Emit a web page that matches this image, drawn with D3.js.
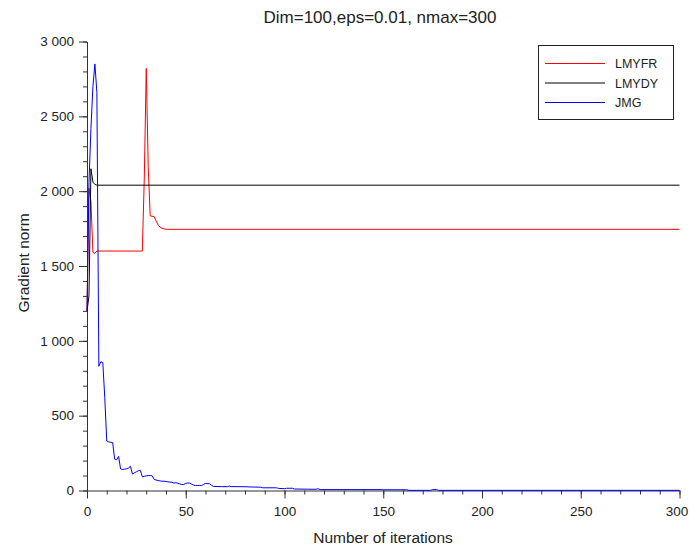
<!DOCTYPE html>
<html>
<head>
<meta charset="utf-8">
<script src="https://cdn.jsdelivr.net/npm/d3@7"></script>
<style>
  body { margin: 0; background: #fff; }
  text { font-family: "Liberation Sans", Arial, sans-serif; }
</style>
</head>
<body>
<script>
// series names, in legend order
var seriesNames = ["LMYFR", "LMYDY", "JMG"];
var seriesColors = ["#ff0000", "#000000", "#0000ff"];

// LMYFR, flat parts only keep their ends
var lmyfrIter = [0, 1, 2, 3, 4, 5, 28, 29, 30, 31, 32, 34, 35, 36, 37, 38, 39, 40, 41, 300];
var lmyfrNorm = [1200, 2020, 1930, 1590, 1585, 1600, 1600, 2080, 2820, 2160, 1835, 1830, 1800, 1775, 1760, 1752, 1748, 1746, 1745, 1745];

// LMYDY
var lmydyIter = [0, 1, 2, 3, 4, 5, 300];
var lmydyNorm = [1200, 1300, 2150, 2060, 2045, 2040, 2040];

// JMG
var jmgIter = [0, 1, 2, 3, 4, 5, 6, 7, 8, 9, 10, 11, 12, 13, 14, 15, 16, 17, 18, 19,
  20, 21, 22, 23, 24, 25, 26, 27, 28, 29, 30, 31, 32, 33, 34, 35, 36, 37, 38, 39,
  40, 41, 42, 43, 44, 45, 46, 47, 48, 49, 50, 51, 52, 53, 54, 55, 56, 57, 58, 59, 60,
  62, 63, 64, 68, 71, 72, 73, 81, 82, 88, 89, 96, 97, 100, 101, 104, 105, 116, 117, 118,
  149, 150, 162, 163, 174, 175, 177, 178, 300];
var jmgNorm = [1200, 2060, 2420, 2700, 2850, 2660, 830, 860, 855, 620, 330, 325, 322, 320, 210, 205, 228, 145, 140, 142,
  145, 150, 162, 110, 118, 125, 132, 135, 92, 95, 98, 100, 100, 98, 75, 70, 66, 64, 62, 62,
  60, 58, 56, 55, 50, 52, 48, 44, 40, 40, 48, 50, 50, 42, 36, 33, 33, 34, 33, 40, 47,
  46, 35, 27, 26, 25, 30, 26, 25, 24, 22, 18, 18, 14, 12, 15, 15, 10, 8, 12, 6,
  6, 5, 5, 1, 1, 6, 6, 1, 1];

var xMajor = [0, 50, 100, 150, 200, 250, 300];
var yMajor = [0, 500, 1000, 1500, 2000, 2500, 3000];

var titleText = "Dim=100,eps=0.01, nmax=300";
var xLabel = "Number of iterations";
var yLabel = "Gradient norm";

var width = 689, height = 547;

var svg = d3.select("body")
  .append("svg")
    .attr("width", width)
    .attr("height", height);

var x = d3.scaleLinear()
  .domain([0, 300])
  .range([87, 679.5]);

var y = d3.scaleLinear()
  .domain([0, 3000])
  .range([490.5, 41.5]);

var fmt = d3.formatLocale({decimal: ".", thousands: " ", grouping: [3], currency: ["", ""]}).format(",d");

// minor ticks first, then the labelled ones
svg.append("g")
  .attr("transform", "translate(0," + y(0) + ")")
  .call(d3.axisBottom(x).tickValues(d3.range(0, 301, 10)).tickSize(4).tickFormat(""))
  .call(function(g){ g.select(".domain").remove(); });

svg.append("g")
  .attr("transform", "translate(" + x(0) + ",0)")
  .call(d3.axisLeft(y).tickValues(d3.range(0, 3001, 100)).tickSize(4).tickFormat(""))
  .call(function(g){ g.select(".domain").remove(); });

var xAxis = svg.append("g")
  .attr("transform", "translate(0," + y(0) + ")")
  .call(d3.axisBottom(x).tickValues(xMajor).tickSize(8).tickSizeOuter(0).tickPadding(8));

var yAxis = svg.append("g")
  .attr("transform", "translate(" + x(0) + ",0)")
  .call(d3.axisLeft(y).tickValues(yMajor).tickFormat(fmt).tickSize(8).tickSizeOuter(0).tickPadding(5));

svg.selectAll(".tick line").attr("stroke", "#333");
svg.selectAll(".domain").attr("stroke", "#333");
svg.selectAll(".tick text")
  .attr("font-family", "Liberation Sans, Arial, sans-serif")
  .attr("font-size", 13.5)
  .attr("fill", "#222");

// last x label sits on the window edge, nudge it in
xAxis.selectAll(".tick text")
  .filter(function(d){ return d === 300; })
  .attr("dx", -3);

// lines
var allSeries = [
  {iter: lmyfrIter, norm: lmyfrNorm},
  {iter: lmydyIter, norm: lmydyNorm},
  {iter: jmgIter, norm: jmgNorm}
];

var line = d3.line()
  .x(function(d){ return x(d[0]); })
  .y(function(d){ return y(d[1]); });

allSeries.forEach(function(s, i){
  var pts = s.iter.map(function(d, j){ return [d, s.norm[j]]; });
  svg.append("path")
    .datum(pts)
    .attr("fill", "none")
    .attr("stroke", seriesColors[i])
    .attr("stroke-width", 1)
    .attr("d", line);
});

// title and axis labels
svg.append("text")
  .attr("x", 380)
  .attr("y", 23)
  .attr("text-anchor", "middle")
  .attr("font-size", 17)
  .attr("fill", "#222")
  .text(titleText);

svg.append("text")
  .attr("x", 383)
  .attr("y", 543)
  .attr("text-anchor", "middle")
  .attr("font-size", 15.5)
  .attr("fill", "#222")
  .text(xLabel);

svg.append("text")
  .attr("transform", "translate(29,263) rotate(-90)")
  .attr("text-anchor", "middle")
  .attr("font-size", 15.5)
  .attr("fill", "#222")
  .text(yLabel);

// legend
var legend = svg.append("g");
legend.append("rect")
  .attr("x", 538.5)
  .attr("y", 45.5)
  .attr("width", 135)
  .attr("height", 74)
  .attr("fill", "#fff")
  .attr("stroke", "#222");

seriesNames.forEach(function(name, i){
  var ly = 63.5 + i * 19.5;
  legend.append("line")
    .attr("x1", 545).attr("x2", 605)
    .attr("y1", ly).attr("y2", ly)
    .attr("stroke", seriesColors[i]);
  legend.append("text")
    .attr("x", 615)
    .attr("y", ly + 4.5)
    .attr("font-size", 12.5)
    .attr("fill", "#222")
    .text(name);
});
</script>
</body>
</html>
